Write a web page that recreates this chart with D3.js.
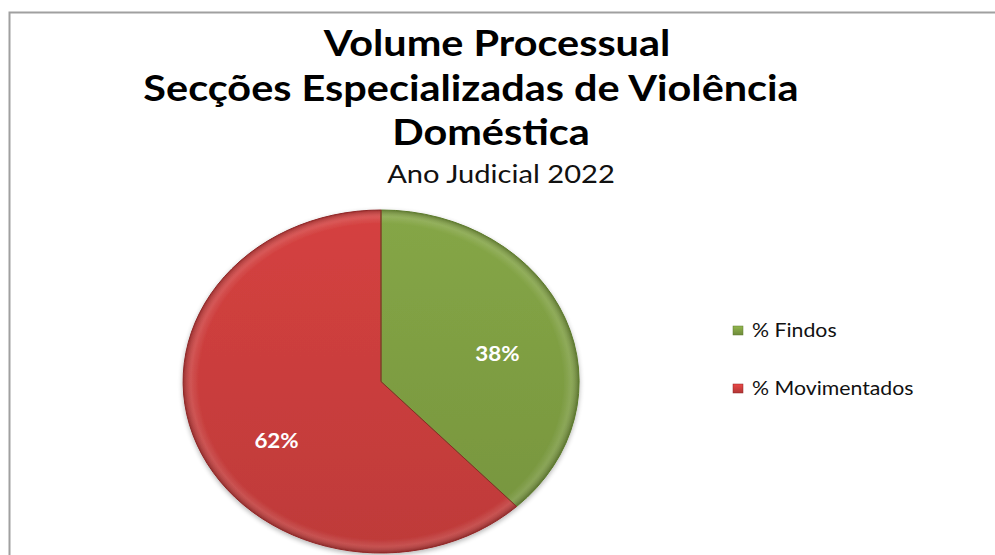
<!DOCTYPE html>
<html>
<head>
<meta charset="utf-8">
<script src="https://cdn.jsdelivr.net/npm/d3@7"></script>
<style>
  html, body { margin: 0; padding: 0; background: #ffffff; }
  svg { display: block; }
</style>
</head>
<body>
<svg id="chart" width="995" height="555"></svg>
<script>
// Volume processual – share of cases closed vs. moved
const categories = ["% Findos", "% Movimentados"];
const values = [38, 62];
const colors = ["#7f9f43", "#cc3e3d"];
const edgeColors = ["#5c7a2c", "#8e2626"];
const titleLines = ["Volume Processual", "Secções Especializadas de Violência", "Doméstica"];
const subtitle = "Ano Judicial 2022";

const W = 995, H = 555;
const svg = d3.select("#chart");
const FONT = "Lato, 'Open Sans', sans-serif";
const SX = 1.12; // horizontal stretch applied to all text

// chart area frame
svg.append("rect")
  .attr("x", 9.5).attr("y", 12.5)
  .attr("width", W + 20).attr("height", H + 20)
  .attr("fill", "#ffffff")
  .attr("stroke", "#a0a0a0").attr("stroke-width", 2);

// stretched text helper: anchor at (x, y), scale horizontally
function stretched(sel, x, y) {
  return sel.attr("transform", `translate(${x},${y}) scale(${SX},1)`);
}

// title (each wrapped line centred on its own)
const titleX = [497, 471, 491];
const titleY = [56, 101, 145];
svg.selectAll("text.title")
  .data(titleLines)
  .join("text")
  .attr("class", "title")
  .each(function (d, i) { stretched(d3.select(this), titleX[i], titleY[i]); })
  .attr("text-anchor", "middle")
  .attr("font-family", FONT)
  .attr("font-weight", "bold")
  .attr("font-size", 37)
  .attr("fill", "#000")
  .text(d => d);

stretched(svg.append("text"), 501, 183)
  .attr("text-anchor", "middle")
  .attr("font-family", FONT)
  .attr("font-size", 26)
  .attr("fill", "#111")
  .text(subtitle);

// pie (drawn as a unit circle, stretched to an ellipse)
const cx = 381, cy = 381.5, rx = 198, ry = 171.5;
const defs = svg.append("defs");

const shadow = defs.append("filter").attr("id", "shadow")
  .attr("x", "-5%").attr("y", "-5%").attr("width", "110%").attr("height", "110%");
shadow.append("feGaussianBlur").attr("in", "SourceAlpha").attr("stdDeviation", 2.5).attr("result", "b");
shadow.append("feOffset").attr("in", "b").attr("dx", 0).attr("dy", 2).attr("result", "o");
shadow.append("feComponentTransfer").attr("in", "o").attr("result", "s")
  .append("feFuncA").attr("type", "linear").attr("slope", 0.3);
const m = shadow.append("feMerge");
m.append("feMergeNode").attr("in", "s");
m.append("feMergeNode").attr("in", "SourceGraphic");

colors.forEach((c, i) => {
  const base = d3.color(c);
  const g = defs.append("linearGradient").attr("id", "fill" + i)
    .attr("gradientUnits", "userSpaceOnUse")
    .attr("x1", 0).attr("y1", -1).attr("x2", 0).attr("y2", 1);
  g.append("stop").attr("offset", "0%").attr("stop-color", base.brighter(0.12));
  g.append("stop").attr("offset", "100%").attr("stop-color", base.darker(0.2));

  const lg = defs.append("linearGradient").attr("id", "key" + i)
    .attr("x1", 0).attr("y1", 0).attr("x2", 0).attr("y2", 1);
  lg.append("stop").attr("offset", "0%").attr("stop-color", base.brighter(0.4));
  lg.append("stop").attr("offset", "100%").attr("stop-color", base.darker(0.4));
});

// soft bevel rim
const rim = defs.append("radialGradient").attr("id", "rim")
  .attr("gradientUnits", "userSpaceOnUse")
  .attr("cx", 0).attr("cy", 0).attr("r", 1);
rim.append("stop").attr("offset", "0%").attr("stop-color", "#fff").attr("stop-opacity", 0);
rim.append("stop").attr("offset", "92%").attr("stop-color", "#fff").attr("stop-opacity", 0);
rim.append("stop").attr("offset", "96%").attr("stop-color", "#fff").attr("stop-opacity", 0.12);
rim.append("stop").attr("offset", "100%").attr("stop-color", "#000").attr("stop-opacity", 0.25);

const pie = d3.pie().sort(null).value(d => d)(values);
const arc = d3.arc().innerRadius(0).outerRadius(1);

const outer = svg.append("g").attr("filter", "url(#shadow)");
const pieG = outer.append("g")
  .attr("transform", `translate(${cx},${cy}) scale(${rx},${ry})`);

pieG.selectAll("path.slice")
  .data(pie)
  .join("path")
  .attr("class", "slice")
  .attr("d", arc)
  .attr("fill", (d, i) => `url(#fill${i})`);

pieG.append("circle").attr("r", 1).attr("fill", "url(#rim)");

pieG.selectAll("path.edge")
  .data(pie)
  .join("path")
  .attr("class", "edge")
  .attr("d", arc)
  .attr("fill", "none")
  .attr("stroke", (d, i) => edgeColors[i])
  .attr("stroke-width", 1)
  .attr("vector-effect", "non-scaling-stroke");

// data labels
const labelArc = d3.arc().innerRadius(0.6).outerRadius(0.6);
svg.selectAll("text.val")
  .data(pie)
  .join("text")
  .attr("class", "val")
  .each(function (d) {
    const [lx, ly] = labelArc.centroid(d);
    stretched(d3.select(this), cx + lx * rx + 6, cy + ly * ry * 1.15 + 23);
  })
  .attr("text-anchor", "middle")
  .attr("font-family", FONT)
  .attr("font-weight", "bold")
  .attr("font-size", 20)
  .attr("fill", "#ffffff")
  .text(d => d.data + "%");

// legend
const legend = svg.append("g").attr("transform", "translate(733,326)");
const item = legend.selectAll("g")
  .data(categories)
  .join("g")
  .attr("transform", (d, i) => `translate(0,${i * 58})`);
item.append("rect")
  .attr("width", 10).attr("height", 9)
  .attr("fill", (d, i) => `url(#key${i})`)
  .attr("stroke", (d, i) => edgeColors[i]).attr("stroke-width", 0.5);
item.append("text")
  .attr("transform", `translate(19,11) scale(${SX},1)`)
  .attr("font-family", FONT)
  .attr("font-size", 19)
  .attr("fill", "#111")
  .text(d => d);
</script>
</body>
</html>
